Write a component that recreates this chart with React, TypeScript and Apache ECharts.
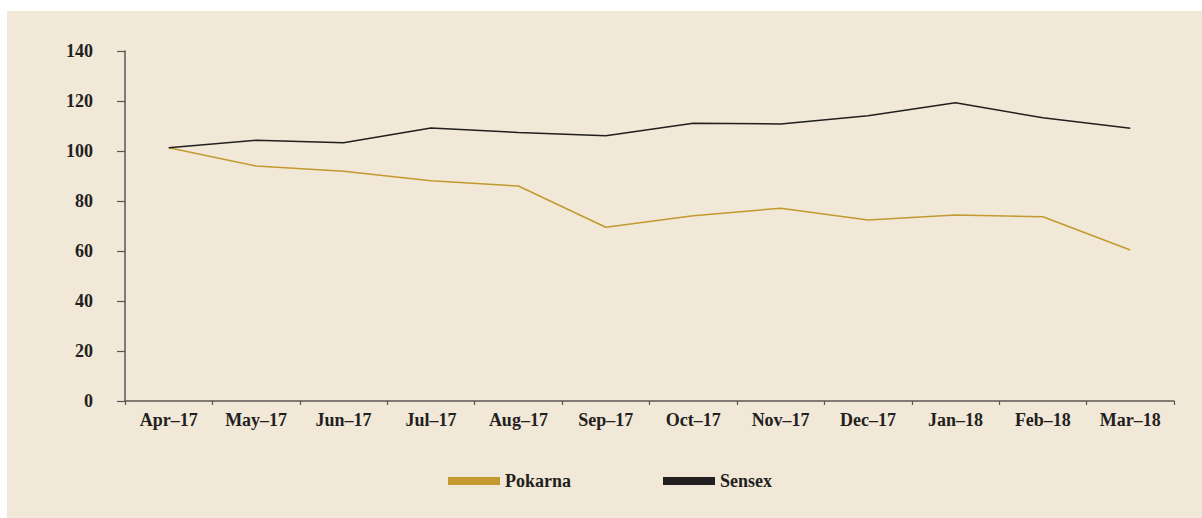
import React, { useEffect, useRef } from "react";
import * as echarts from "echarts";

const categories = ["Apr–17", "May–17", "Jun–17", "Jul–17", "Aug–17", "Sep–17", "Oct–17", "Nov–17", "Dec–17", "Jan–18", "Feb–18", "Mar–18"];
const pokarna = [101.3, 94.0, 91.9, 88.1, 86.0, 69.5, 74.1, 77.1, 72.4, 74.4, 73.7, 60.4];
const sensex = [101.3, 104.3, 103.3, 109.2, 107.4, 106.1, 111.1, 110.8, 114.1, 119.3, 113.3, 109.1];
const seriesNames = ["Pokarna", "Sensex"];
const yTicks = { min: 0, max: 140, interval: 20 };

const FONT = "'Liberation Serif', 'Times New Roman', serif";
const TEXT = "#231f20";
const AXIS = "#5b5552";
const GOLD = "#c39a2f";
const BLACK = "#231f20";

export default function App() {
  const ref = useRef<HTMLDivElement>(null);
  useEffect(() => {
    if (!ref.current) return;
    const chart = echarts.init(ref.current, undefined, { renderer: "svg" });
    chart.setOption({
      animation: false,
      backgroundColor: "#f1e8d7",
      textStyle: { fontFamily: FONT },
      grid: { left: 118, right: 28, top: 40, bottom: 117, containLabel: false },
      legend: {
        left: 441,
        top: 461,
        padding: 0,
        itemWidth: 52,
        itemHeight: 8,
        itemGap: 92,
        icon: "rect",
        textStyle: { fontFamily: FONT, fontSize: 18, fontWeight: "bold", color: TEXT },
        data: seriesNames,
      },
      xAxis: {
        type: "category",
        data: categories,
        boundaryGap: true,
        axisLine: { lineStyle: { color: AXIS, width: 1.5 } },
        axisTick: { show: true, length: 4, lineStyle: { color: AXIS, width: 1.2 } },
        axisLabel: { color: TEXT, fontFamily: FONT, fontSize: 18, fontWeight: "bold", margin: 10, interval: 0 },
        splitLine: { show: false },
      },
      yAxis: {
        type: "value",
        min: yTicks.min,
        max: yTicks.max,
        interval: yTicks.interval,
        axisLine: { show: true, lineStyle: { color: AXIS, width: 1.5 } },
        axisTick: { show: true, length: 8, lineStyle: { color: AXIS, width: 1.2 } },
        axisLabel: { color: TEXT, fontFamily: FONT, fontSize: 18, fontWeight: "bold", margin: 32 },
        splitLine: { show: false },
      },
      series: [
        {
          name: seriesNames[0],
          type: "line",
          data: pokarna,
          showSymbol: false,
          symbol: "none",
          itemStyle: { color: GOLD },
          lineStyle: { color: GOLD, width: 1.5 },
        },
        {
          name: seriesNames[1],
          type: "line",
          data: sensex,
          showSymbol: false,
          symbol: "none",
          itemStyle: { color: BLACK },
          lineStyle: { color: BLACK, width: 1.5 },
        },
      ],
    });
    return () => chart.dispose();
  }, []);
  return (
    <div style={{ position: "fixed", left: 0, top: 0, width: 1202, height: 518, background: "#ffffff" }}>
      <div ref={ref} style={{ position: "absolute", left: 7, top: 11, width: 1195, height: 507 }} />
    </div>
  );
}
